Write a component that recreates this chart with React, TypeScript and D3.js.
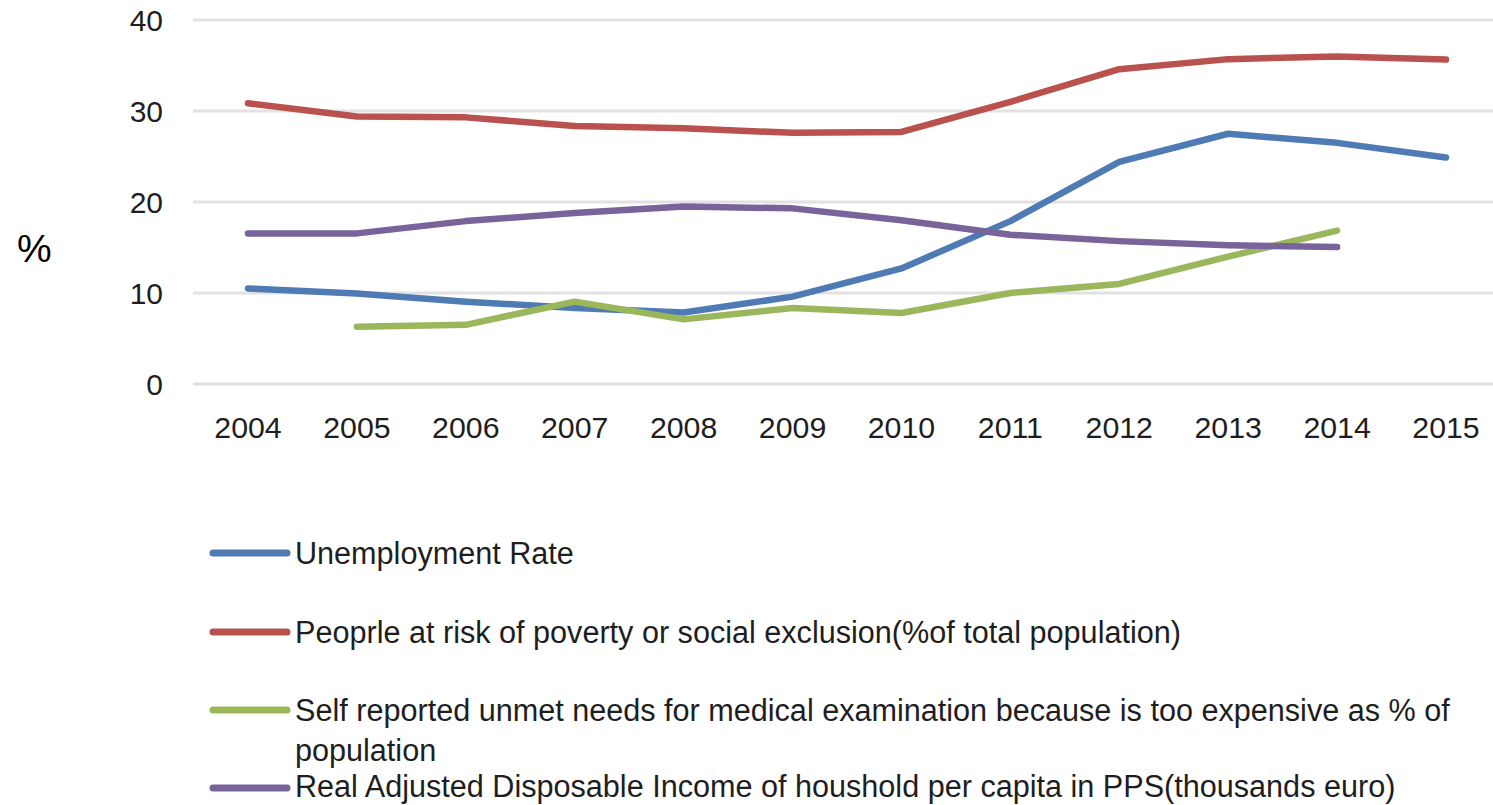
import React from "react";
import * as d3 from "d3";

const years = ["2004","2005","2006","2007","2008","2009","2010","2011","2012","2013","2014","2015"];
const yTicks = [0, 10, 20, 30, 40];

const unemployment = [10.5, 9.95, 9.05, 8.35, 7.85, 9.6, 12.7, 17.9, 24.4, 27.5, 26.5, 24.9];
const poverty = [30.85, 29.4, 29.3, 28.35, 28.1, 27.6, 27.7, 31.0, 34.6, 35.7, 36.0, 35.65];
const unmetNeeds = [null, 6.3, 6.5, 9.05, 7.1, 8.35, 7.8, 10.0, 11.0, 14.0, 16.85, null];
const income = [16.55, 16.55, 17.9, 18.8, 19.5, 19.3, 18.0, 16.4, 15.7, 15.25, 15.05, null];

const seriesNames = [
  "Unemployment Rate",
  "Peoprle at risk of poverty or social exclusion(%of total population)",
  "Self reported unmet needs for medical examination because is too expensive as % of",
  "Real Adjusted Disposable Income of houshold per capita in PPS(thousands euro)",
];
const seriesWrap = ["", "", "population", ""];
const seriesColors = ["#4f7bb5", "#b9524e", "#9bb75c", "#78649a"];
const seriesValues = [unemployment, poverty, unmetNeeds, income];

export default function App() {
  const W = 1493, H = 805;
  const x = d3.scalePoint<string>().domain(years).range([248, 1446]);
  const y = d3.scaleLinear().domain([0, 40]).range([384, 20]);
  const font = "'Liberation Sans', Arial, Helvetica, sans-serif";
  const textColor = "#1e1e1e";

  const line = d3
    .line<number | null>()
    .defined((d) => d != null)
    .x((_, i) => x(years[i]) as number)
    .y((d) => y(d as number));

  const legendY = [553, 632, 710, 788];
  const legendBase = [564, 642.5, 720.5, 797];

  return (
    <svg width={W} height={H} style={{ position: "absolute", left: 0, top: 0, background: "#fff" }} fontFamily={font}>
      <rect width={W} height={H} fill="#fff" />
      {yTicks.map((t) => (
        <g key={t}>
          <line x1={193} x2={1493} y1={y(t)} y2={y(t)} stroke="#e2e2e2" strokeWidth={3} />
          <text x={163} y={y(t) + 10.7} textAnchor="end" fontSize={30} fill={textColor}>{t}</text>
        </g>
      ))}
      {years.map((yr) => (
        <text key={yr} x={x(yr)} y={438} textAnchor="middle" fontSize={30.3} fill={textColor}>{yr}</text>
      ))}
      <text x={17} y={262} fontSize={39} fill="#000">%</text>
      {seriesValues.map((vals, i) => (
        <path key={i} d={line(vals) || ""} fill="none" stroke={seriesColors[i]} strokeWidth={6.5} strokeLinecap="round" strokeLinejoin="round" />
      ))}
      {seriesNames.map((name, i) => (
        <g key={name}>
          <line x1={213} x2={287} y1={legendY[i]} y2={legendY[i]} stroke={seriesColors[i]} strokeWidth={7} strokeLinecap="round" />
          <text x={295} y={legendBase[i]} fontSize={30.6} fill={textColor}>{name}</text>
          {seriesWrap[i] && (
            <text x={295} y={legendBase[i] + 40} fontSize={30.6} fill={textColor}>{seriesWrap[i]}</text>
          )}
        </g>
      ))}
    </svg>
  );
}
